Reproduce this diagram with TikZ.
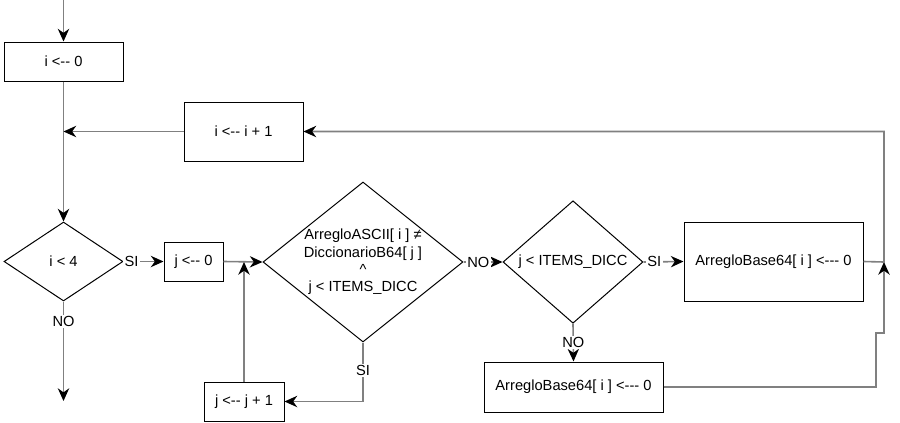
\documentclass[tikz,border=0pt]{standalone}
\usepackage{fontspec}
\setmainfont{Liberation Sans}[Ligatures=TeXOff]
\usepackage{tikz}
\usetikzlibrary{positioning,shapes.geometric,arrows.meta}

\begin{document}
\begin{tikzpicture}[x=0.75pt, y=-0.75pt,
    font=\fontsize{11}{13}\selectfont,
    proc/.style={draw, rectangle, line width=0.75pt, inner sep=0pt, align=center},
    cond/.style={draw, diamond, line width=0.75pt, inner sep=0pt, align=center},
    flow/.style={draw=black!50, line width=1.2pt, -{Stealth[length=9.5pt, width=8.5pt, inset=3pt, black]}},
    line/.style={draw=black!50, line width=1.2pt},
    lbl/.style={fill=white, inner sep=1pt}]
    \useasboundingbox (0,0) rectangle (900,422);

    \coordinate (start) at (63.5,0);
    \node [proc, minimum width=89.25pt, minimum height=29.25pt] (iZero) at (63.5,61.5) {i <-- 0};
    \node [proc, minimum width=89.25pt, minimum height=44.25pt] (iInc) at (243.5,131.5) {i <-- i + 1};
    \coordinate (iJoin) at (63.5,131.5);
    \node [cond, minimum width=89.25pt, minimum height=59.25pt] (iTest) at (63.5,261.5) {i < 4};
    \coordinate (end) at (63.5,401);
    \node [proc, minimum width=44.25pt, minimum height=29.25pt] (jZero) at (193.5,261.5) {j <-- 0};
    \node [cond, aspect=1.25, inner sep=-3pt, minimum width=150pt, minimum height=120pt] (jSearch) at (363,262)
        {ArregloASCII[ i ] ≠\\DiccionarioB64[ j ]\\\textasciicircum\\j < ITEMS\_DICC};
    \node [proc, minimum width=60pt, minimum height=29.25pt] (jInc) at (244,401.5) {j <-- j + 1};
    \coordinate (jJoin) at (244,262);
    \node [cond, minimum width=105pt, minimum height=90pt] (jTest) at (573,262) {j < ITEMS\_DICC};
    \node [proc, minimum width=134.25pt, minimum height=59.25pt] (foundSet) at (773.5,261.5) {ArregloBase64[ i ] <--- 0};
    \node [proc, minimum width=134.25pt, minimum height=37.5pt] (missSet) at (573.5,387) {ArregloBase64[ i ] <--- 0};
    \coordinate (bJoin) at (884,262);

    \path [flow] (start) -- (iZero.north);
    \path [flow] (iZero.south) -- (iTest.north);
    \path [flow] (iInc.west) -- (iJoin);
    \path [flow] (iTest.east) -- node[lbl, pos=0.2] {SI} (jZero.west);
    \path [flow] (iTest.south) -- node[lbl, pos=0.2] {NO} (end);
    \path [flow] (jZero.east) -- (jSearch.west);
    \path [flow] (jSearch.south) |- node[lbl, pos=0.24] {SI} (jInc.east);
    \path [flow] (jInc.north) -- (jJoin);
    \path [flow] (jSearch.east) -- node[lbl, pos=0.38] {NO} (jTest.west);
    \path [flow] (jTest.east) -- node[lbl, pos=0.27] {SI} (foundSet.west);
    \path [flow] (jTest.south) -- node[lbl, pos=0.5] {NO} (missSet.north);
    \path [flow] (missSet.east) -- (876,387) -- (876,333) -- (884,333) -- (bJoin);
    \path [flow] (foundSet.east) -- (bJoin) |- (iInc.east);
\end{tikzpicture}
\end{document}
